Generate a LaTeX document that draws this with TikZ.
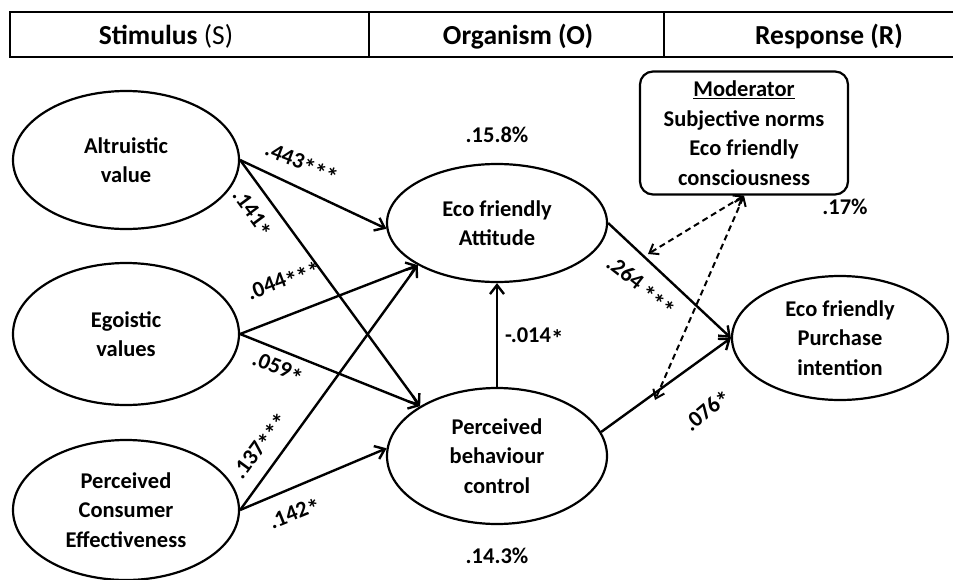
\documentclass[tikz,border=0pt]{standalone}
\usepackage{fontspec}
\setmainfont{Carlito}
\usetikzlibrary{shapes.geometric,arrows.meta}
\newcommand\stx{\raisebox{-0.45ex}{\fontsize{25}{25}\selectfont *}\kern-0.5pt}
\begin{document}
\begin{tikzpicture}[x=1pt,y=-1pt,
  font=\fontsize{22.5}{29.5}\selectfont\bfseries,
  oval/.style={ellipse,draw,line width=2.2pt,inner sep=0pt,align=center},
  path/.style={line width=2.4pt,-{Straight Barb[length=9pt,width=14pt,line width=2.4pt]}},
  modlink/.style={line width=2pt,dash pattern=on 6pt off 4pt,{Straight Barb[length=8pt,width=12pt,line width=2pt]}-{Straight Barb[length=8pt,width=12pt,line width=2pt]}},
  coef/.style={inner sep=1pt},
  hdrtext/.style={font=\fontsize{27.5}{30}\selectfont\bfseries,anchor=base},
  hdr/.style={line width=2pt}]
\useasboundingbox (0,0) rectangle (953,579);
% header
\draw[hdr] (953,12) -- (10,12) -- (10,57) -- (953,57);
\draw[hdr] (369,12) -- (369,57);
\draw[hdr] (664,12) -- (664,57);
\node[hdrtext] (hs) at (166,44) {Stimulus {\mdseries(S)}};
\node[hdrtext] (ho) at (518,44) {Organism (O)};
\node[hdrtext] (hr) at (829,44) {Response (R)};
% nodes
\node[oval,minimum width=226pt,minimum height=138pt] (alt) at (126,160) {Altruistic\\value};
\node[oval,minimum width=226pt,minimum height=142pt] (ego) at (126,334) {Egoistic\\values};
\node[oval,minimum width=226pt,minimum height=140pt] (pce) at (126,510) {Perceived\\Consumer\\Effectiveness};
\node[oval,minimum width=220pt,minimum height=118pt] (att) at (497,223) {Eco friendly\\Attitude};
\node[oval,minimum width=220pt,minimum height=136pt] (pbc) at (497,456) {Perceived\\behaviour\\control};
\node[oval,minimum width=216pt,minimum height=124pt] (pur) at (840,338) {Eco friendly\\Purchase\\intention};
\node[draw,line width=2.2pt,rounded corners=13pt,minimum width=208pt,minimum height=123pt,align=center,inner sep=1pt] (mod) at (744,133) {\underline{Moderator}\\Subjective norms\\Eco friendly\\consciousness};
% R2 labels
\node (r1) at (497,135) {.15.8\%};
\node (r2) at (845,207) {.17\%};
\node (r3) at (497,556) {.14.3\%};
% paths
\draw[path] (alt.east) -- (att.183);
\draw[path] (alt.east) -- (pbc.147);
\draw[path] (ego.east) -- (att.208);
\draw[path] (ego.east) -- (pbc.147);
\draw[path] (pce.east) -- (att.208);
\draw[path] (pce.east) -- (pbc.176);
\draw[path] (pbc.north) -- (att.south);
\draw[path] (att.east) -- (pur.west);
\draw[path] (pbc.13) -- (pur.west);
% moderator links
\coordinate (m1) at (648,254);
\coordinate (m2) at (655,400);
\draw[modlink] (mod.south) -- (m1);
\draw[modlink] (mod.south) -- (m2);
% coefficients
\node[coef,rotate=-21] (c1) at (301,164) {.443\stx\stx\stx};
\node[coef,rotate=-53.5] (c2) at (251,214) {.141\stx};
\node[coef,rotate=21] (c3) at (284,282) {.044\stx\stx\stx};
\node[coef,rotate=-21.5] (c4) at (277,369) {.059\stx};
\node[coef,rotate=53.7] (c5) at (261,447) {.137\stx\stx\stx};
\node[coef,rotate=22] (c6) at (295,515) {.142\stx};
\node[coef] (c7) at (534,338) {-.014\stx};
\node[coef,rotate=-38] (c8) at (640,287) {.264 \stx\stx\stx};
\node[coef,rotate=40] (c9) at (708,412) {.076\stx};
\end{tikzpicture}
\end{document}
